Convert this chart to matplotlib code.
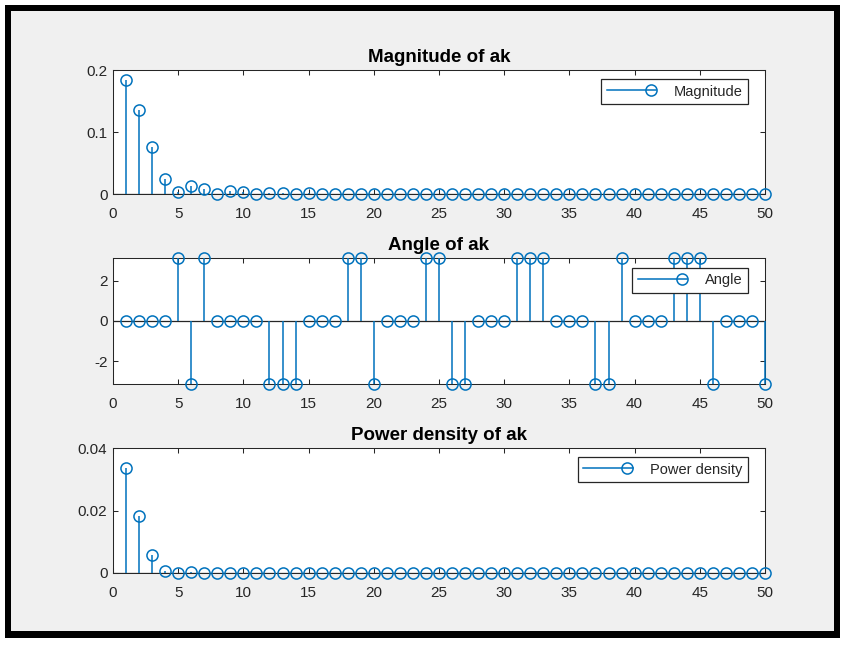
import matplotlib
matplotlib.use('Agg')
import matplotlib.pyplot as plt
import numpy as np
from matplotlib.patches import Rectangle
from matplotlib.lines import Line2D
from matplotlib.legend_handler import HandlerBase
from matplotlib.ticker import FormatStrFormatter

# harmonic index
k = list(range(1, 51))

# magnitude of ak
magnitude = [0.1833, 0.1355, 0.0763, 0.0242, 0.0038, 0.0134, 0.0081, 0.0005, 0.0048, 0.0038,
             0.0005, 0.0016, 0.0016, 0.0005, 0.0010, 0.0006, 0.0004, 0.0006, 0.0005, 0.0003,
             0.0004, 0.0003, 0.0004, 0.0003, 0.0003, 0.0003, 0.0002, 0.0003, 0.0002, 0.0002,
             0.0002, 0.0002, 0.0002, 0.0002, 0.0002, 0.0001, 0.0002, 0.0001, 0.0001, 0.0001,
             0.0001, 0.0001, 0.0001, 0.0001, 0.0001, 0.0001, 0.0001, 0.0001, 0.0001, 0.0001]

# angle of ak (+pi, -pi or 0)
PI = 3.1416
angle = [0, 0, 0, 0, PI, -PI, PI, 0, 0, 0,
         0, -PI, -PI, -PI, 0, 0, 0, PI, PI, -PI,
         0, 0, 0, PI, PI, -PI, -PI, 0, 0, 0,
         PI, PI, PI, 0, 0, 0, -PI, -PI, PI, 0,
         0, 0, PI, PI, PI, -PI, 0, 0, 0, -PI]

# power density of ak
power = [0.0336, 0.0184, 0.0058, 0.00059, 0.000014, 0.00018, 0.000066, 0.0, 0.000023, 0.000014,
         0.0, 0.0000026, 0.0000026, 0.0, 0.000001, 0.0, 0.0, 0.0, 0.0, 0.0,
         0.0, 0.0, 0.0, 0.0, 0.0, 0.0, 0.0, 0.0, 0.0, 0.0,
         0.0, 0.0, 0.0, 0.0, 0.0, 0.0, 0.0, 0.0, 0.0, 0.0,
         0.0, 0.0, 0.0, 0.0, 0.0, 0.0, 0.0, 0.0, 0.0, 0.0]

xticks = list(range(0, 51, 5))

BLUE = '#0072BD'
DARK = '#262626'

plt.rcParams['font.family'] = ['Liberation Sans', 'DejaVu Sans']


class StemHandler(HandlerBase):
    # matlab style legend entry: line with a circle at the right end
    def create_artists(self, legend, orig_handle, xdescent, ydescent,
                       width, height, fontsize, trans):
        y = height / 2.0 - ydescent
        line = Line2D([-xdescent, width - xdescent], [y, y], color=BLUE, lw=1.1)
        mark = Line2D([width - xdescent - 4], [y], marker='o', ms=8, mew=1.1,
                      color=BLUE, fillstyle='none', linestyle='none')
        line.set_transform(trans)
        mark.set_transform(trans)
        return [line, mark]


def draw_stem(ax, x, y, label):
    ax.vlines(x, 0, y, color=BLUE, lw=1.1, clip_on=False, zorder=3)
    ax.plot(x, y, linestyle='none', marker='o', ms=8, mew=1.1, color=BLUE,
            fillstyle='none', clip_on=False, zorder=4)
    # baseline
    ax.axhline(0, color=DARK, lw=0.9, zorder=2)
    ax.set_xlim(0, 50)
    ax.set_xticks(xticks)
    ax.tick_params(direction='in', top=True, right=True, length=3.5, width=0.75,
                   colors=DARK, labelsize=11)
    ax.tick_params(axis='x', pad=9.5)
    ax.tick_params(axis='y', pad=4)
    for sp in ax.spines.values():
        sp.set_color(DARK)
        sp.set_linewidth(0.75)
    ax.yaxis.set_major_formatter(FormatStrFormatter('%g'))
    proxy = Line2D([0], [0], color=BLUE)
    return proxy


fig = plt.figure(figsize=(8.51, 6.48), dpi=100, facecolor='white')

# screenshot frame: black border around the grey figure window
W, H = 851.0, 648.0
fig.patches.append(Rectangle((5 / W, 1 - 638 / H), (840 - 5) / W, (638 - 5) / H,
                             transform=fig.transFigure, facecolor='black', edgecolor='none', zorder=-10))
fig.patches.append(Rectangle((11 / W, 1 - 631 / H), (834 - 11) / W, (631 - 11) / H,
                             transform=fig.transFigure, facecolor='#f0f0f0', edgecolor='none', zorder=-9))

ax1 = fig.add_axes([113 / W, 1 - 194 / H, 652 / W, 124 / H])
ax2 = fig.add_axes([113 / W, 1 - 384 / H, 652 / W, 126 / H])
ax3 = fig.add_axes([113 / W, 1 - 573 / H, 652 / W, 125 / H])

titles = ['Magnitude of ak', 'Angle of ak', 'Power density of ak']
labels = ['Magnitude', 'Angle', 'Power density']
series = [magnitude, angle, power]
legend_y = [0.927, 0.921, 0.928]

for ax, vals, title, lab, ly in zip([ax1, ax2, ax3], series, titles, labels, legend_y):
    proxy = draw_stem(ax, k, vals, lab)
    ax.set_title(title, fontsize=13.5, fontweight='bold', color='black', pad=6)
    leg = ax.legend([proxy], [lab], loc='upper right', bbox_to_anchor=(0.974, ly),
                    borderaxespad=0, fontsize=10.5, handler_map={Line2D: StemHandler()},
                    handlelength=3.4, handletextpad=1.2, borderpad=0.38,
                    fancybox=False, framealpha=1, edgecolor=DARK)
    leg.get_frame().set_linewidth(0.9)
    for t in leg.get_texts():
        t.set_color(DARK)

ax1.set_ylim(0, 0.2)
ax1.set_yticks([0, 0.1, 0.2])
ax2.set_ylim(-np.pi, np.pi)
ax2.set_yticks([-2, 0, 2])
ax3.set_ylim(0, 0.04)
ax3.set_yticks([0, 0.02, 0.04])

fig.savefig('out.png', dpi=100, facecolor=fig.get_facecolor())
